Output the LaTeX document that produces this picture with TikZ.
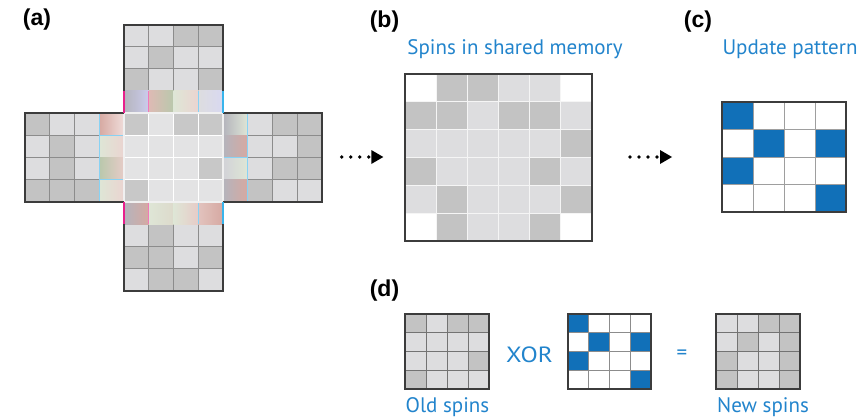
\documentclass[tikz,border=0pt]{standalone}
\usepackage{fontspec}
\setmainfont{Liberation Sans}
\newfontfamily\bluefont{PT Sans}
\usetikzlibrary{arrows.meta}
\definecolor{sD}{HTML}{C3C3C3}
\definecolor{sL}{HTML}{DDDDDF}
\definecolor{sW}{HTML}{FFFFFF}
\definecolor{sB}{HTML}{1170B8}
\definecolor{cD}{HTML}{C8C8C8}
\definecolor{cL}{HTML}{E3E3E4}
\definecolor{txtblue}{HTML}{2284CC}
\definecolor{frame}{HTML}{3C3C3C}
\definecolor{hpink}{HTML}{D6A9A2}
\definecolor{hgreen}{HTML}{B9C8AC}
\definecolor{hlgreen}{HTML}{DEE6D6}
\definecolor{hgray}{HTML}{B4B4BC}
\definecolor{hmag}{HTML}{E8208C}
\definecolor{hcyan}{HTML}{38B4EC}
\newcommand\spincells[5]{% x0,y0,cw,ch,rows
  \foreach \rr [count=\ri from 0] in {#5} {
    \foreach \cc [count=\ci from 0] in \rr {
      \fill[\cc] ({#1+\ci*#3},{#2+\ri*#4}) rectangle ++(#3,#4);
    }
  }
}
\newcommand\spinlines[7]{% x0,y0,ncols,nrows,cw,ch,style
  \foreach \k in {1,...,#3} {\ifnum\k<#3 \draw[#7] ({#1+\k*#5},#2) -- ++(0,{#4*#6});\fi}
  \foreach \k in {1,...,#4} {\ifnum\k<#4 \draw[#7] (#1,{#2+\k*#6}) -- ++({#3*#5},0);\fi}
}
\tikzset{
  panel/.style={font=\bfseries\fontsize{23}{23}\selectfont, inner sep=0pt},
  bluelbl/.style={font=\bluefont\fontsize{21}{21}\selectfont, text=txtblue, inner sep=0pt},
  outer/.style={draw=frame, line width=2pt},
  dotarrow/.style={line width=3.6pt, line cap=round, dash pattern=on 0pt off 9pt,
    -{Triangle[length=12pt,width=14pt,line width=0pt]}}
}
\begin{document}
\begin{tikzpicture}[x=1pt,y=-1pt]
\useasboundingbox (0,0) rectangle (861,418);
% ---------------- (a) ----------------
% top arm
\spincells{124}{24.6}{24.75}{22.1}{{sL,sL,sD,sD},{sL,sD,sL,sL},{sD,sL,sL,sD}}
\spinlines{124}{24.6}{4}{3}{24.75}{22.1}{draw=black!45, line width=0.9pt}
% bottom arm
\spincells{124}{224.2}{24.75}{22.1}{{sL,sD,sL,sL},{sD,sD,sL,sD},{sL,sD,sD,sL}}
\spinlines{124}{224.2}{4}{3}{24.75}{22.1}{draw=black!45, line width=0.9pt}
% left arm
\spincells{25}{113}{24.75}{22.25}{{sD,sL,sL},{sL,sD,sL},{sL,sD,sL},{sD,sD,sD}}
\spinlines{25}{113}{3}{4}{24.75}{22.25}{draw=black!45, line width=0.9pt}
% right arm
\spincells{247.75}{113}{24.75}{22.25}{{sL,sD,sD},{sL,sL,sD},{sL,sD,sD},{sD,sL,sL}}
\spinlines{247.75}{113}{3}{4}{24.75}{22.25}{draw=black!45, line width=0.9pt}
% halo cells: top row
\shade[left color=hgray, right color=hgray!70!blue!40] (124,90.9) rectangle ++(24.75,22.1);
\shade[left color=hpink!80, right color=hgreen] (148.75,90.9) rectangle ++(24.75,22.1);
\shade[left color=hlgreen, right color=hpink!50] (173.5,90.9) rectangle ++(24.75,22.1);
\shade[left color=sL, right color=hgray!70!blue!30] (198.25,90.9) rectangle ++(24.75,22.1);
% halo cells: bottom row
\shade[left color=hgray, right color=hpink] (124,202.1) rectangle ++(24.75,22.1);
\shade[left color=hlgreen, right color=hlgreen!80!hpink] (148.75,202.1) rectangle ++(24.75,22.1);
\shade[left color=hlgreen, right color=hpink!60] (173.5,202.1) rectangle ++(24.75,22.1);
\shade[left color=hpink!70, right color=hpink] (198.25,202.1) rectangle ++(24.75,22.1);
% halo cells: left column
\shade[left color=hpink, right color=hpink!40] (99.25,113) rectangle ++(24.75,22.25);
\shade[left color=hlgreen, right color=hpink!50] (99.25,135.25) rectangle ++(24.75,22.25);
\shade[left color=hgreen, right color=hpink!60] (99.25,157.5) rectangle ++(24.75,22.25);
\shade[left color=hlgreen, right color=hpink!50] (99.25,179.75) rectangle ++(24.75,22.25);
% halo cells: right column
\shade[left color=hgray, right color=hlgreen] (223,113) rectangle ++(24.75,22.25);
\shade[left color=hgray, right color=hpink] (223,135.25) rectangle ++(24.75,22.25);
\shade[left color=hgray!60, right color=hlgreen] (223,157.5) rectangle ++(24.75,22.25);
\shade[left color=hgray, right color=hpink] (223,179.75) rectangle ++(24.75,22.25);
% faint halo cell borders
\draw[hcyan!60, line width=0.7pt] (99.25,135.25) -- ++(24.75,0) (99.25,179.75) -- ++(24.75,0) (99.25,113) -- ++(0,89);
\draw[hcyan!60, line width=0.7pt] (247.75,113) -- ++(0,89) (223,157.5) -- ++(24.75,0);
\draw[hcyan!60, line width=0.7pt] (198.25,90.9) -- ++(0,22.1) (198.25,202.1) -- ++(0,22.1);
\draw[hmag!60, line width=0.7pt] (148.75,90.9) -- ++(0,22.1) (148.75,202.1) -- ++(0,22.1);
% central square
\spincells{124}{113}{24.75}{22.25}{{cD,cL,cD,cD},{cL,cL,cL,cL},{cL,cL,cL,cD},{cD,cL,cL,cL}}
\spinlines{124}{113}{4}{4}{24.75}{22.25}{draw=white, line width=0.9pt}
\draw[white!94!black, line width=1.6pt] (124,113) rectangle (223,202);
% outer frames of arms
\draw[outer] (124,90.9) -- (124,24.6) -- (223,24.6) -- (223,90.9);
\draw[outer] (124,224.2) -- (124,290.5) -- (223,290.5) -- (223,224.2);
\draw[outer] (124,113) -- (25,113) -- (25,202) -- (124,202);
\draw[outer] (223,113) -- (322,113) -- (322,202) -- (223,202);
% coloured edges of halo rows
\draw[hmag, line width=1.8pt] (124,90.9) -- (124,113) (124,202) -- (124,224.2);
\draw[hcyan, line width=1.8pt] (223,90.9) -- (223,113) (223,202) -- (223,224.2);
% ---------------- (b) ----------------
\spincells{405}{74}{31.17}{27.83}{{sW,sD,sD,sL,sL,sW},{sD,sD,sL,sD,sD,sL},{sL,sL,sL,sL,sL,sD},{sD,sL,sL,sL,sD,sL},{sL,sD,sL,sL,sL,sD},{sW,sD,sL,sL,sD,sW}}
\spinlines{405}{74}{6}{6}{31.17}{27.83}{draw=white!96!black, line width=0.9pt}
\draw[outer] (405,74) rectangle (592,241);
% ---------------- (c) ----------------
\spincells{722}{102}{31}{27.5}{{sB,sW,sW,sW},{sW,sB,sW,sB},{sB,sW,sW,sW},{sW,sW,sW,sB}}
\spinlines{722}{102}{4}{4}{31}{27.5}{draw=black!38, line width=0.9pt}
\draw[outer] (722,102) rectangle (846,212);
% ---------------- (d) ----------------
\spincells{405}{314}{21}{18.75}{{sD,sL,sD,sD},{sL,sL,sL,sL},{sL,sL,sL,sD},{sD,sL,sL,sL}}
\spinlines{405}{314}{4}{4}{21}{18.75}{draw=black!55, line width=0.8pt}
\draw[outer] (405,314) rectangle (489,389);
\spincells{568}{314}{20.75}{18.75}{{sB,sW,sW,sW},{sW,sB,sW,sB},{sB,sW,sW,sW},{sW,sW,sW,sB}}
\spinlines{568}{314}{4}{4}{20.75}{18.75}{draw=black!45, line width=0.8pt}
\draw[outer] (568,314) rectangle (651,389);
\spincells{716}{314}{21}{18.75}{{sL,sL,sD,sD},{sL,sD,sL,sD},{sD,sL,sL,sD},{sD,sL,sL,sD}}
\spinlines{716}{314}{4}{4}{21}{18.75}{draw=black!55, line width=0.8pt}
\draw[outer] (716,314) rectangle (800,389);
% ---------------- labels ----------------
\node[panel] (la) at (37,20) {(a)};
\node[panel] (lb) at (384.5,22) {(b)};
\node[panel] (lc) at (698,22) {(c)};
\node[panel] (ld) at (384.5,291) {(d)};
\node[bluelbl] (tb) at (515,49) {Spins in shared memory};
\node[bluelbl] (tc) at (790,49) {Update pattern};
\node[bluelbl] (txor) at (529.5,355) {\scalebox{1.2}[1.05]{XOR}};
\node[bluelbl] (teq) at (682,355) {=};
\node[bluelbl] (told) at (447.5,407) {Old spins};
\node[bluelbl] (tnew) at (763,407) {New spins};
% ---------------- arrows ----------------
\coordinate (a1s) at (341.7,157);
\coordinate (a1e) at (383.3,157);
\coordinate (a2s) at (630,157);
\coordinate (a2e) at (672,157);
\draw[dotarrow] (a1s) -- (a1e);
\draw[dotarrow] (a2s) -- (a2e);
\end{tikzpicture}
\end{document}
